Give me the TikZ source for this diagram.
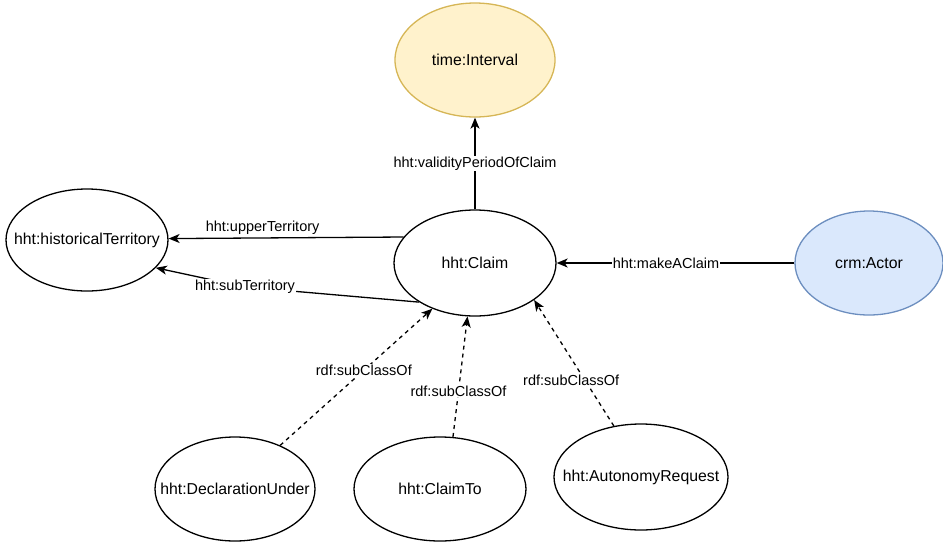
\documentclass[tikz,border=0pt]{standalone}
\usepackage{fontspec}
\setmainfont{Liberation Sans}
\usetikzlibrary{arrows.meta,shapes.geometric}
\definecolor{yfill}{HTML}{FFF2CC}
\definecolor{ydraw}{HTML}{D6B656}
\definecolor{bfill}{HTML}{DAE8FC}
\definecolor{bdraw}{HTML}{6C8EBF}
\tikzset{
  ent/.style={ellipse, draw=black, line width=1.3pt, fill=white, inner sep=0pt,
    font=\fontsize{15.8}{19}\selectfont},
  conn/.style={line width=1.3pt, -{Stealth[length=11pt,width=9pt,inset=3pt]}},
  sub/.style={conn, dash pattern=on 4pt off 4pt},
  lab/.style={fill=white, inner sep=1pt, font=\fontsize{14.5}{17}\selectfont},
}
\begin{document}
\begin{tikzpicture}[x=1pt,y=-1pt]
\useasboundingbox (0,0) rectangle (943,542);
\node[ent, draw=ydraw, fill=yfill, minimum width=160pt, minimum height=114pt] (interval) at (475,60) {\makebox[0pt]{time:Interval}};
\node[ent, minimum width=162pt, minimum height=102pt] (hist) at (87,240) {\makebox[0pt]{hht:historicalTerritory}};
\node[ent, minimum width=162pt, minimum height=106pt] (claim) at (475,263) {\makebox[0pt]{hht:Claim}};
\node[ent, draw=bdraw, fill=bfill, minimum width=148pt, minimum height=104pt] (actor) at (869,263) {\makebox[0pt]{crm:Actor}};
\node[ent, minimum width=160pt, minimum height=104pt] (decl) at (235,489) {\makebox[0pt]{hht:DeclarationUnder}};
\node[ent, minimum width=172pt, minimum height=104pt] (claimto) at (440,489) {\makebox[0pt]{hht:ClaimTo}};
\node[ent, minimum width=174pt, minimum height=106pt] (auto) at (641,477) {\makebox[0pt]{hht:AutonomyRequest}};

\draw[conn] (claim.north) -- node[lab, midway] {hht:validityPeriodOfClaim} (interval.south);
\draw[conn] (actor.west) -- node[lab, pos=0.54] {hht:makeAClaim} (claim.east);
\draw[conn] (claim.160) -- node[pos=0.6, above=2pt, inner sep=1pt, font=\fontsize{14.5}{17}\selectfont] {hht:upperTerritory} (hist.1);
\coordinate (bend) at (245,287);
\draw[conn] (claim.215) -- (bend) -- (hist.338);
\node[lab] (sublab) at (bend) {hht:subTerritory};
\draw[sub] (decl.44) -- node[lab, pos=0.55] {rdf:subClassOf} (claim.227);
\draw[sub] (claimto.76) -- node[lab, pos=0.38] {rdf:subClassOf} (claim.262);
\draw[sub] (auto.118) -- node[lab, pos=0.36, xshift=-14pt] {rdf:subClassOf} (claim.328);
\end{tikzpicture}
\end{document}
